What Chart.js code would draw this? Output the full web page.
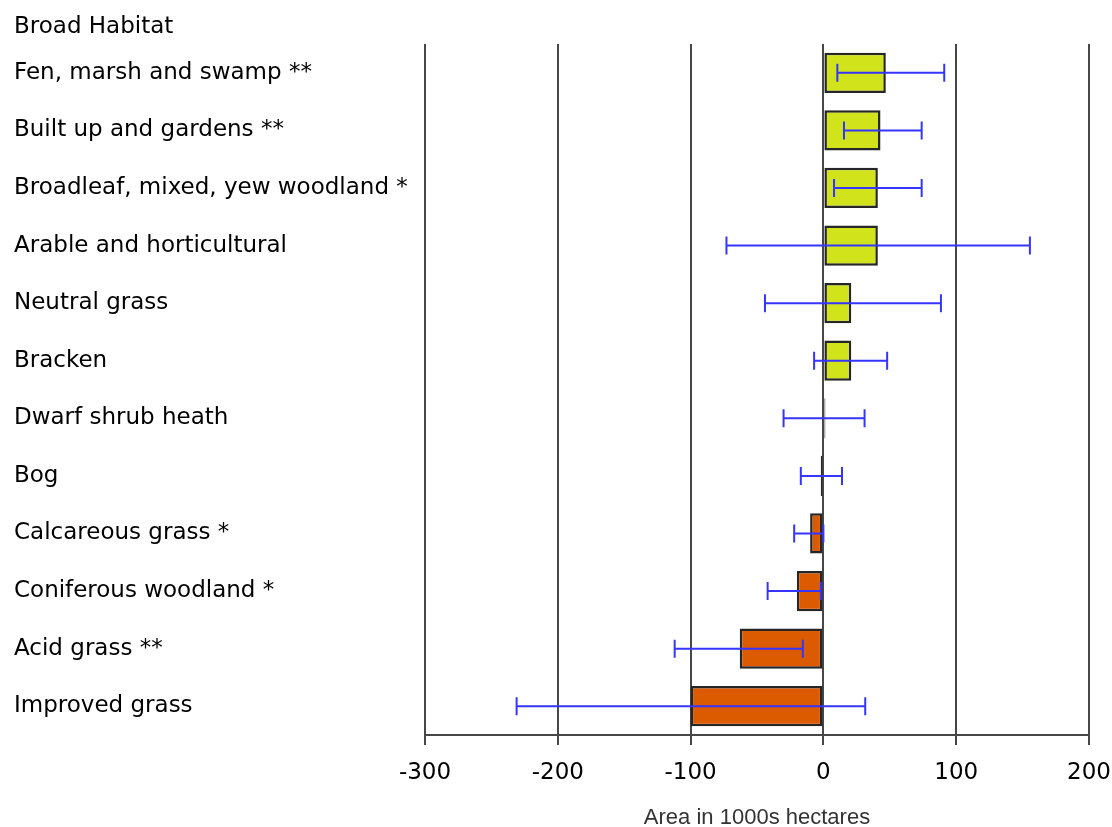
<!DOCTYPE html>
<html>
<head>
<meta charset="utf-8">
<script src="https://cdn.jsdelivr.net/npm/chart.js@4.4.1/dist/chart.umd.min.js"></script>
<style>
  html, body { margin: 0; padding: 0; background: #ffffff; }
  #wrap { width: 1112px; height: 827px; }
</style>
</head>
<body>
<div id="wrap"><canvas id="c" width="1112" height="827"></canvas></div>
<script>
// Net change in area by Broad Habitat, with confidence intervals
const habitats = [
  "Fen, marsh and swamp **",
  "Built up and gardens **",
  "Broadleaf, mixed, yew woodland *",
  "Arable and horticultural",
  "Neutral grass",
  "Bracken",
  "Dwarf shrub heath",
  "Bog",
  "Calcareous grass *",
  "Coniferous woodland *",
  "Acid grass **",
  "Improved grass"
];
const change = [47, 43, 41, 41, 21, 21, 1.5, -2, -10, -20, -63, -100];
const lowerCI = [10.5, 15.5, 8, -73, -44, -7, -30, -17, -22, -42, -112, -231];
const upperCI = [91, 74, 74, 155.5, 88.5, 48, 31, 14, 0, -2, -15.5, 31.5];
const xTicks = [-300, -200, -100, 0, 100, 200];

const gainColour = "#d1e31b";
const lossColour = "#dc5b00";

const errorBars = {
  id: "errorBars",
  afterDatasetsDraw(chart) {
    const { ctx, scales: { x, y } } = chart;
    ctx.save();
    ctx.strokeStyle = "#3535ff";
    ctx.lineWidth = 2;
    const cap = 9;
    for (let i = 0; i < habitats.length; i++) {
      const py = y.getPixelForValue(i);
      const x1 = x.getPixelForValue(lowerCI[i]);
      const x2 = x.getPixelForValue(upperCI[i]);
      ctx.beginPath();
      ctx.moveTo(x1, py); ctx.lineTo(x2, py);
      ctx.moveTo(x1, py - cap); ctx.lineTo(x1, py + cap);
      ctx.moveTo(x2, py - cap); ctx.lineTo(x2, py + cap);
      ctx.stroke();
    }
    ctx.restore();
  }
};

const header = {
  id: "header",
  afterDraw(chart) {
    const ctx = chart.ctx;
    ctx.save();
    ctx.font = "23px 'DejaVu Sans'";
    ctx.fillStyle = "#000";
    ctx.textAlign = "left";
    ctx.textBaseline = "middle";
    ctx.fillText("Broad Habitat", 14, 27);
    ctx.restore();
  }
};

new Chart(document.getElementById("c"), {
  type: "bar",
  data: {
    labels: habitats,
    datasets: [{
      data: change,
      backgroundColor: change.map(v => v >= 0 ? gainColour : lossColour),
      borderColor: "#262626",
      borderWidth: 2.5,
      borderSkipped: false,
      barPercentage: 0.7,
      categoryPercentage: 1.0
    }]
  },
  options: {
    indexAxis: "y",
    responsive: false,
    animation: false,
    layout: { padding: { left: 14, top: 44, right: 0, bottom: 0 } },
    plugins: { legend: { display: false }, tooltip: { enabled: false } },
    scales: {
      x: {
        min: -300, max: 200,
        afterBuildTicks(scale) { scale.ticks = xTicks.map(v => ({ value: v })); },
        afterFit(scale) { scale.height = 92; scale.paddingRight = 23; },
        grid: { color: "#474747", lineWidth: 2, tickLength: 10 },
        border: { display: true, color: "#474747", width: 2 },
        ticks: {
          color: "#000",
          padding: 14,
          font: { family: "'DejaVu Sans'", size: 23 }
        },
        title: {
          display: true,
          text: "Area in 1000s hectares",
          color: "#333",
          font: { family: "'Liberation Sans'", size: 22, lineHeight: 0.86 },
          padding: { top: 0, bottom: 0 }
        }
      },
      y: {
        grid: { display: false },
        border: { display: false },
        afterFit(scale) { scale.width = 411; },
        ticks: {
          crossAlign: "far",
          color: "#000",
          padding: 0,
          font: { family: "'DejaVu Sans'", size: 23 }
        }
      }
    }
  },
  plugins: [errorBars, header]
});
</script>
</body>
</html>
